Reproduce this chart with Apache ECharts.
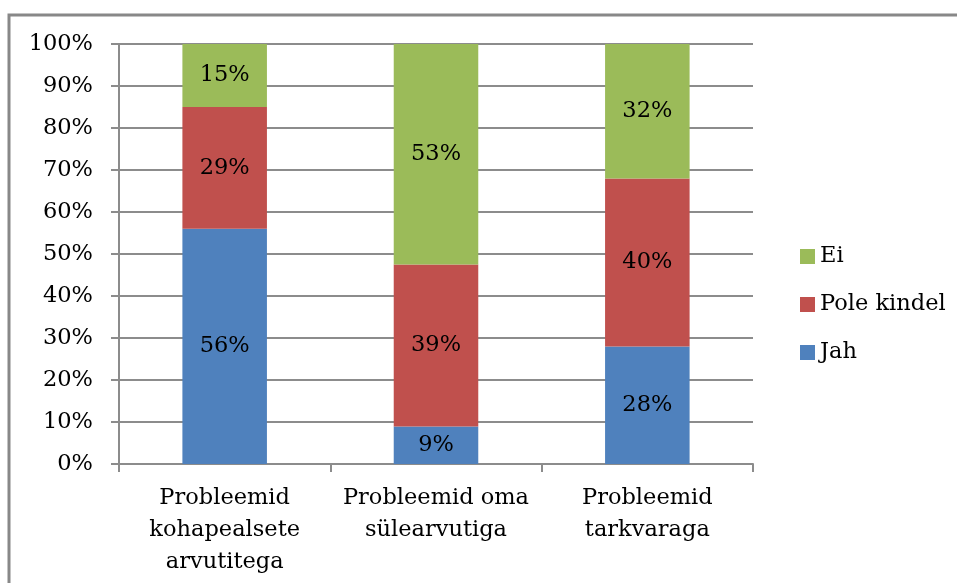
<!DOCTYPE html>
<html>
<head>
<meta charset="utf-8">
<script src="https://cdn.jsdelivr.net/npm/echarts@6/dist/echarts.min.js"></script>
<style>
  html, body { margin: 0; padding: 0; background: #fff; }
  #chart { width: 957px; height: 583px; }
</style>
</head>
<body>
<div id="chart"></div>
<script>
// andmed
const categories = ['Probleemid\nkohapealsete\narvutitega', 'Probleemid oma\nsülearvutiga', 'Probleemid\ntarkvaraga'];
const jah = [56, 9, 28];
const poleKindel = [29, 39, 40];
const ei = [15, 53, 32];
const yTicks = ['0%', '10%', '20%', '30%', '40%', '50%', '60%', '70%', '80%', '90%', '100%'];

const FONT = 'DejaVu Serif';
const FS = 22.5;
const gridGray = '#8c8c8c';

// 100% stacked: normalise each column to its own total
const totals = categories.map((c, i) => jah[i] + poleKindel[i] + ei[i]);
function share(arr) {
    return arr.map((v, i) => ({ value: v / totals[i] * 100, raw: v }));
}

function makeSeries(name, arr, color) {
    return {
        name: name,
        type: 'bar',
        stack: 'total',
        barWidth: '40%',
        data: share(arr),
        itemStyle: { color: color },
        label: {
            show: true,
            position: 'inside',
            color: '#000',
            fontFamily: FONT,
            fontSize: FS,
            formatter: p => p.data.raw + '%'
        }
    };
}

const chart = echarts.init(document.getElementById('chart'));
chart.setOption({
    animation: false,
    backgroundColor: '#fff',
    graphic: [{
        type: 'rect',
        shape: { x: 9, y: 15, width: 1000, height: 700 },
        style: { fill: 'none', stroke: '#888', lineWidth: 3 }
    }],
    grid: { left: 119, right: 204, top: 44, bottom: 119 },
    legend: {
        orient: 'vertical',
        left: 795,
        top: 238,
        itemWidth: 15,
        itemHeight: 15,
        itemGap: 21,
        icon: 'rect',
        data: ['Ei', 'Pole kindel', 'Jah'],
        textStyle: {
            fontFamily: FONT, fontSize: FS, color: '#000',
            lineHeight: 27
        }
    },
    xAxis: {
        type: 'category',
        data: categories,
        axisLine: { lineStyle: { color: gridGray, width: 2 } },
        axisTick: { show: true, length: 8, lineStyle: { color: gridGray, width: 2 } },
        axisLabel: {
            fontFamily: FONT, fontSize: FS, color: '#000',
            lineHeight: 32, margin: 18, interval: 0
        }
    },
    yAxis: {
        type: 'value',
        min: 0,
        max: 100,
        interval: 10,
        axisLine: { show: true, lineStyle: { color: gridGray, width: 2 } },
        axisTick: { show: true, length: 8, lineStyle: { color: gridGray, width: 2 } },
        splitLine: { lineStyle: { color: gridGray, width: 2 } },
        axisLabel: {
            fontFamily: FONT, fontSize: FS, color: '#000', margin: 26,
            formatter: v => yTicks[Math.round(v / 10)]
        }
    },
    series: [
        makeSeries('Jah', jah, '#4f81bd'),
        makeSeries('Pole kindel', poleKindel, '#c0504d'),
        makeSeries('Ei', ei, '#9bbb59')
    ]
});
</script>
</body>
</html>
